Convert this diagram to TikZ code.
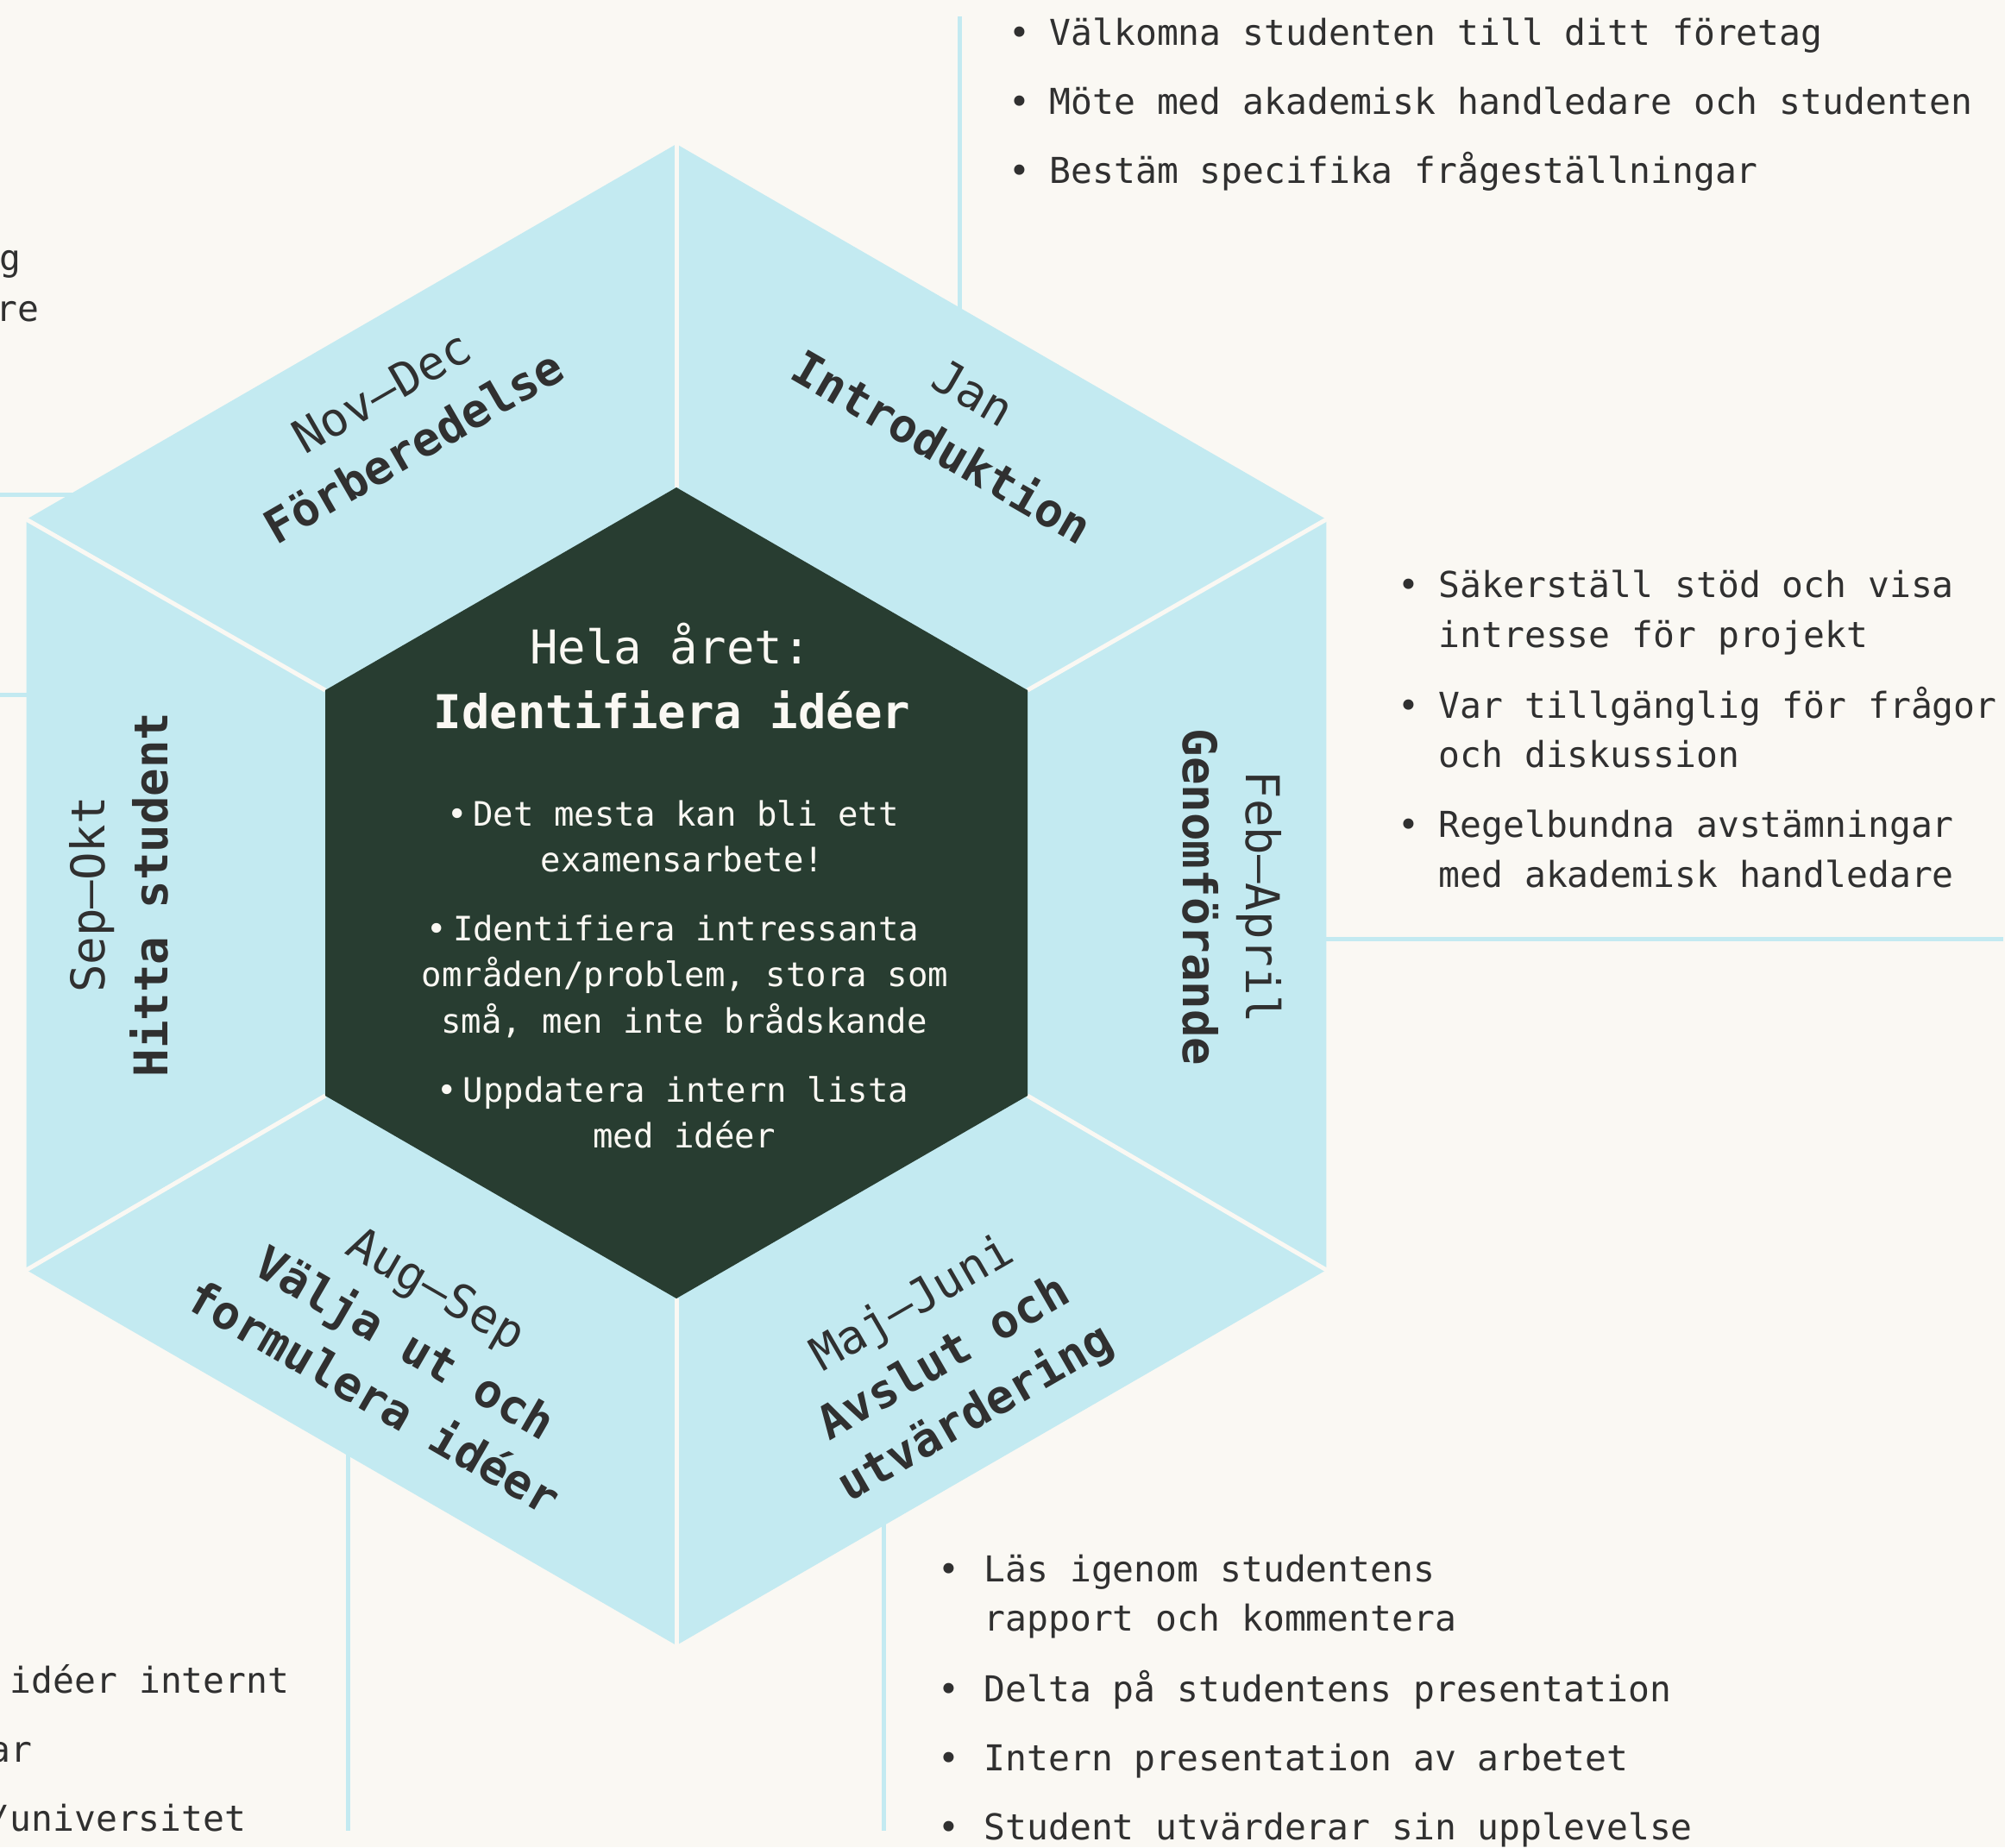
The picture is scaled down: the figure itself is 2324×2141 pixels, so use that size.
\documentclass[tikz,border=0pt]{standalone}
\usepackage{fontspec}
\setmonofont{DejaVu Sans Mono}
\definecolor{bg}{HTML}{FAF8F3}
\definecolor{hexblue}{HTML}{C3EAF1}
\definecolor{lineblue}{HTML}{C3EAF1}
\definecolor{hexgreen}{HTML}{283D31}
\definecolor{txt}{HTML}{303030}
\begin{document}
\begin{tikzpicture}[x=0.3pt,y=-0.3pt,
  listtxt/.style={font=\ttfamily\fontsize{12.4}{17.5}\selectfont, text=txt, inner sep=0pt, anchor=base west},
  listend/.style={font=\ttfamily\fontsize{12.4}{17.5}\selectfont, text=txt, inner sep=0pt, anchor=base east},
  bul/.style={font=\ttfamily\fontsize{12.4}{17.5}\selectfont, text=txt, inner sep=0pt, anchor=base},
  ctxt/.style={font=\ttfamily\fontsize{11.7}{16}\selectfont, text=bg, inner sep=0pt, anchor=base},
  chead/.style={font=\ttfamily\fontsize{16.2}{22}\selectfont, text=bg, inner sep=0pt, anchor=base},
  lbl/.style={font=\ttfamily\fontsize{16.2}{22}\selectfont, text=txt, inner sep=0pt, align=center},
  conn/.style={draw=lineblue, line width=1.5pt},
  divider/.style={draw=bg, line width=1.5pt, shorten >=-2pt},
]
% background
\fill[bg] (0,0) rectangle (2324,2141);
\useasboundingbox (0,0) rectangle (2324,2141);
\clip (0,0) rectangle (2324,2141);

% hexagon vertices
\coordinate (O1) at (784,167);
\coordinate (O2) at (1537.4,602);
\coordinate (O3) at (1537.4,1472);
\coordinate (O4) at (784,1907);
\coordinate (O5) at (30.6,1472);
\coordinate (O6) at (30.6,602);
\coordinate (I1) at (784,565);
\coordinate (I2) at (1191,800);
\coordinate (I3) at (1191,1270);
\coordinate (I4) at (784,1505);
\coordinate (I5) at (377,1270);
\coordinate (I6) at (377,800);

% connector lines (drawn under the hexagon)
\coordinate (cT1) at (1112,19);    \coordinate (cT2) at (1112,420);
\coordinate (cL1) at (0,573);      \coordinate (cL2) at (120,573);
\coordinate (cM1) at (0,805);      \coordinate (cM2) at (60,805);
\coordinate (cR1) at (1500,1088);  \coordinate (cR2) at (2322,1088);
\coordinate (cB1) at (403,1640);   \coordinate (cB2) at (403,2122);
\coordinate (cC1) at (1024,1720);  \coordinate (cC2) at (1024,2122);
\draw[conn] (cT1) -- (cT2);
\draw[conn] (cL1) -- (cL2);
\draw[conn] (cM1) -- (cM2);
\draw[conn] (cR1) -- (cR2);
\draw[conn] (cB1) -- (cB2);
\draw[conn] (cC1) -- (cC2);

% outer hexagon
\fill[hexblue] (O1) -- (O2) -- (O3) -- (O4) -- (O5) -- (O6) -- cycle;
% dividers
\draw[divider] (I1) -- (O1);
\draw[divider] (I2) -- (O2);
\draw[divider] (I3) -- (O3);
\draw[divider] (I4) -- (O4);
\draw[divider] (I5) -- (O5);
\draw[divider] (I6) -- (O6);
% inner hexagon
\fill[hexgreen] (I1) -- (I2) -- (I3) -- (I4) -- (I5) -- (I6) -- cycle;

% segment labels
\node[lbl, rotate=30]  (lblUL) at (461,486)   {Nov–Dec\\\textbf{Förberedelse}};
\node[lbl, rotate=-30] (lblUR) at (1110,487)  {Jan\\\textbf{Introduktion}};
\node[lbl, rotate=90]  (lblL)  at (138,1037)  {Sep–Okt\\\textbf{Hitta student}};
\node[lbl, rotate=-90] (lblR)  at (1428,1040) {Feb–April\\\textbf{Genomförande}};
\node[lbl, rotate=-30] (lblLL) at (470,1556)  {Aug–Sep\\\textbf{Välja ut och}\\\textbf{formulera idéer}};
\node[lbl, rotate=30]  (lblLR) at (1095,1576) {Maj–Juni\\\textbf{Avslut och}\\\textbf{utvärdering}};

% centre text
\node[chead] (h1) at (777,769) {Hela året:};
\node[chead] (h2) at (779,844) {\textbf{Identifiera idéer}};
\node[ctxt] (c1) at (780,957)  {•\kern2pt Det mesta kan bli ett};
\node[ctxt] (c2) at (791,1010) {examensarbete!};
\node[ctxt] (c3) at (780,1090) {•\kern2pt Identifiera intressanta};
\node[ctxt] (c4) at (794,1143) {områden/problem, stora som};
\node[ctxt] (c5) at (793,1197) {små, men inte brådskande};
\node[ctxt] (c6) at (780,1277) {•\kern2pt Uppdatera intern lista};
\node[ctxt] (c7) at (793,1330) {med idéer};

% top list
\node[bul] (tb1) at (1182,52)  {•};
\node[listtxt] (tt1) at (1216,52)  {Välkomna studenten till ditt företag};
\node[bul] (tb2) at (1182,132) {•};
\node[listtxt] (tt2) at (1216,132) {Möte med akademisk handledare och studenten};
\node[bul] (tb3) at (1182,212) {•};
\node[listtxt] (tt3) at (1216,212) {Bestäm specifika frågeställningar};

% right list
\node[bul] (rb1) at (1633,692)  {•};
\node[listtxt] (rt1) at (1667,692)  {Säkerställ stöd och visa};
\node[listtxt] (rt1b) at (1667,750) {intresse för projekt};
\node[bul] (rb2) at (1633,832)  {•};
\node[listtxt] (rt2) at (1667,832)  {Var tillgänglig för frågor};
\node[listtxt] (rt2b) at (1667,889) {och diskussion};
\node[bul] (rb3) at (1633,970)  {•};
\node[listtxt] (rt3) at (1667,970)  {Regelbundna avstämningar};
\node[listtxt] (rt3b) at (1667,1028) {med akademisk handledare};

% bottom-right list
\node[bul] (bb1) at (1100,1833) {•};
\node[listtxt] (bt1) at (1140,1833) {Läs igenom studentens};
\node[listtxt] (bt1b) at (1140,1890) {rapport och kommentera};
\node[bul] (bb2) at (1100,1972) {•};
\node[listtxt] (bt2) at (1140,1972) {Delta på studentens presentation};
\node[bul] (bb3) at (1100,2052) {•};
\node[listtxt] (bt3) at (1140,2052) {Intern presentation av arbetet};
\node[bul] (bb4) at (1100,2132) {•};
\node[listtxt] (bt4) at (1140,2132) {Student utvärderar sin upplevelse};

% cut-off fragments at the left edge
\node[listend] (lf1) at (25,313)   {g};
\node[listend] (lf2) at (46,372)   {re};
\node[listend] (lf3) at (336,1962) {idéer internt};
\node[listend] (lf4) at (38,2042)  {ar};
\node[listend] (lf5) at (286,2122) {/universitet};
\end{tikzpicture}
\end{document}
